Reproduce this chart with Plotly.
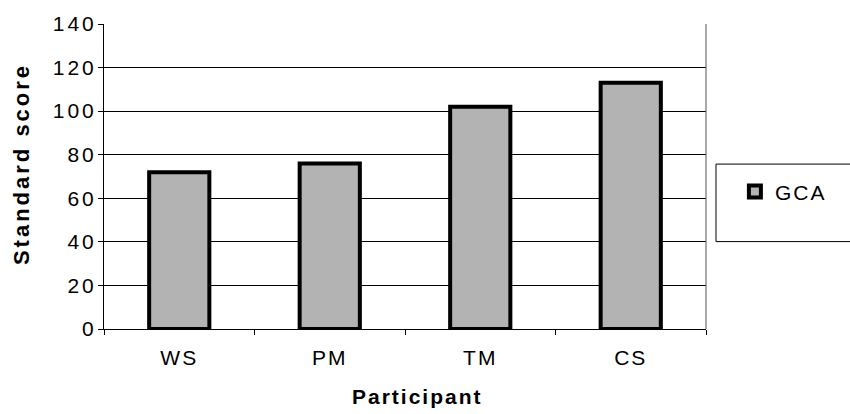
import plotly.graph_objects as go

participants = ["WS", "PM", "TM", "CS"]
gca_scores = [72, 76, 102, 113]
y_tick_vals = [0, 20, 40, 60, 80, 100, 120, 140]
y_tick_text = ["0", "20", "40", "60", "80", "100", "120", "140"]
series_name = "GCA"
x_title = "Participant"
y_title = "Standard score"

FONT = "Liberation Sans, Arial, sans-serif"

fig = go.Figure()
fig.add_trace(go.Bar(
    x=participants, y=gca_scores, name=series_name,
    marker=dict(color="#b3b3b3", line=dict(color="black", width=4)),
    showlegend=True,
))

fig.update_layout(
    width=850, height=414,
    margin=dict(l=104, r=144, t=22, b=85),
    paper_bgcolor="white", plot_bgcolor="white",
    bargap=0.6,
    font=dict(family=FONT, size=21, color="black"),
    showlegend=True,
    legend=dict(x=1.048, y=0.4495, xanchor="left", yanchor="middle",
                bgcolor="rgba(0,0,0,0)", borderwidth=0,
                font=dict(family=FONT, size=21, color="black")),
    xaxis=dict(
        type="category", showgrid=False, showline=True, linecolor="black", linewidth=1,
        ticks="outside", tickson="boundaries", ticklen=5, tickcolor="black", tickwidth=1,
        ticklabelstandoff=10, tickfont=dict(size=21),
    ),
    yaxis=dict(
        range=[0, 140], tickvals=y_tick_vals, ticktext=y_tick_text,
        showgrid=True, gridcolor="black", gridwidth=1,
        showline=True, linecolor="black", linewidth=1,
        ticks="outside", ticklen=5, tickcolor="black", tickwidth=1,
        tickfont=dict(size=21), zeroline=False,
    ),
    shapes=[
        dict(type="line", xref="paper", yref="paper", x0=1, x1=1, y0=0, y1=1,
             line=dict(color="#555555", width=1)),
        dict(type="rect", xref="paper", yref="paper", x0=1.0166, x1=1.26, y0=0.2866, y1=0.5407,
             line=dict(color="black", width=1), fillcolor="rgba(0,0,0,0)"),
    ],
    annotations=[
        dict(text="<b>" + x_title + "</b>", xref="paper", yref="paper", x=(417 - 104) / 602, y=-0.22,
             xanchor="center", yanchor="middle", showarrow=False, font=dict(size=21)),
        dict(text="<b>" + y_title + "</b>", xref="paper", yref="paper", x=(21 - 104) / 602, y=(329 - 163) / 307,
             xanchor="center", yanchor="middle", showarrow=False, textangle=-90, font=dict(size=22)),
    ],
)

post = """
document.body.style.margin='0';
function applySpacing(){
  document.body.style.margin='0';
  document.querySelectorAll('.xtick text').forEach(function(t){t.style.letterSpacing='2px';});
  document.querySelectorAll('.ytick text').forEach(function(t){t.style.letterSpacing='3px'; t.setAttribute('dx','3');});
  document.querySelectorAll('.legendtext').forEach(function(t){t.style.letterSpacing='2px';});
  var ann = document.querySelectorAll('.annotation-text');
  ann.forEach(function(t){t.style.letterSpacing='2px';});
  if (ann.length > 1) { ann[1].style.letterSpacing='3px'; }
}
applySpacing();
setTimeout(applySpacing, 0);
setTimeout(applySpacing, 200);
"""

fig.write_html("out.html", post_script=post, config={"displayModeBar": False})
